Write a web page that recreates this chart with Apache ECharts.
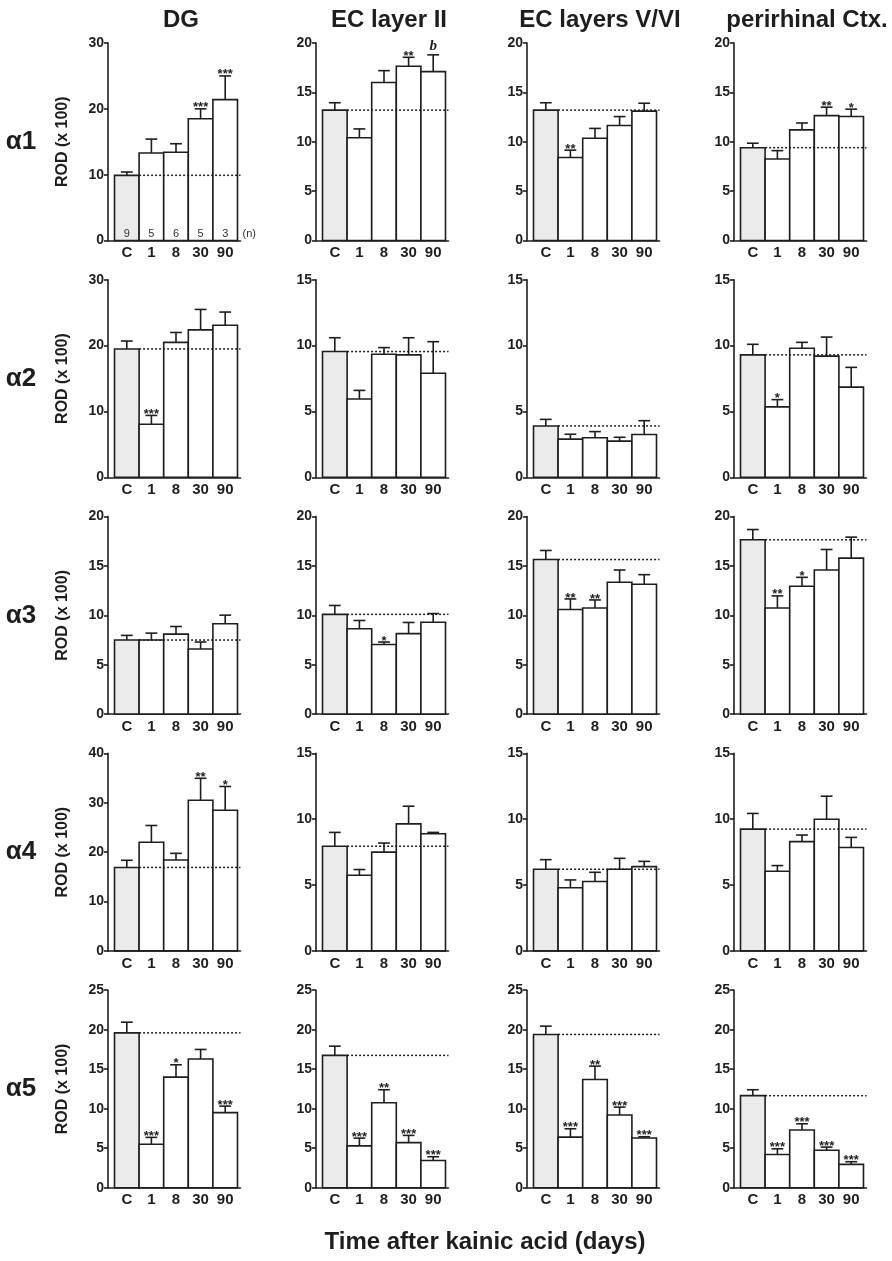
<!DOCTYPE html>
<html><head><meta charset="utf-8">
<script src="https://cdn.jsdelivr.net/npm/echarts@6/dist/echarts.min.js"></script>
<style>html,body{margin:0;padding:0;background:#fff}#c{width:892px;height:1261px}</style>
</head><body><div id="c"></div>
<script>
// ---------- data ----------
const categories = ['C', '1', '8', '30', '90'];
const regions = ['DG', 'EC layer II', 'EC layers V/VI', 'perirhinal Ctx.'];
const subunits = ['α1', 'α2', 'α3', 'α4', 'α5'];
const nCounts = [9, 5, 6, 5, 3];

// order inside each: DG, EC layer II, EC layers V/VI, perirhinal Ctx.
const alpha1Mean = [[9.9, 13.3, 13.4, 18.5, 21.4], [13.2, 10.4, 16.0, 17.65, 17.1], [13.2, 8.4, 10.35, 11.65, 13.1], [9.4, 8.25, 11.2, 12.65, 12.55]];
const alpha1Sem  = [[0.5, 2.1, 1.3, 1.5, 3.6], [0.75, 0.9, 1.2, 0.9, 1.7], [0.75, 0.75, 1.0, 0.9, 0.8], [0.45, 0.85, 0.7, 0.85, 0.75]];
const alpha1Sig  = [['', '', '', '***', '***'], ['', '', '', '**', 'b'], ['', '**', '', '', ''], ['', '', '', '**', '*']];

const alpha2Mean = [[19.5, 8.05, 20.5, 22.4, 23.1], [9.55, 5.95, 9.35, 9.3, 7.9], [3.9, 2.9, 3.0, 2.75, 3.25], [9.3, 5.35, 9.8, 9.2, 6.85]];
const alpha2Sem  = [[1.2, 1.35, 1.5, 3.1, 2.0], [1.05, 0.65, 0.5, 1.3, 2.4], [0.5, 0.37, 0.47, 0.29, 1.05], [0.8, 0.55, 0.45, 1.45, 1.5]];
const alpha2Sig  = [['', '***', '', '', ''], ['', '', '', '', ''], ['', '', '', '', ''], ['', '*', '', '', '']];

const alpha3Mean = [[7.5, 7.5, 8.1, 6.6, 9.15], [10.1, 8.65, 7.05, 8.15, 9.3], [15.65, 10.6, 10.75, 13.35, 13.15], [17.65, 10.75, 12.95, 14.6, 15.8]];
const alpha3Sem  = [[0.47, 0.7, 0.77, 0.7, 0.87], [0.9, 0.83, 0.25, 1.13, 0.88], [0.92, 1.06, 0.81, 1.24, 0.97], [1.04, 1.22, 0.9, 2.07, 2.12]];
const alpha3Sig  = [['', '', '', '', ''], ['', '', '*', '', ''], ['', '**', '**', '', ''], ['', '**', '*', '', '']];

const alpha4Mean = [[16.9, 22.0, 18.4, 30.5, 28.5], [7.95, 5.75, 7.5, 9.65, 8.9], [6.2, 4.8, 5.27, 6.2, 6.4], [9.25, 6.05, 8.3, 10.0, 7.85]];
const alpha4Sem  = [[1.45, 3.4, 1.36, 4.46, 4.8], [1.05, 0.43, 0.69, 1.34, 0.1], [0.73, 0.59, 0.7, 0.83, 0.4], [1.19, 0.43, 0.5, 1.75, 0.77]];
const alpha4Sig  = [['', '', '', '**', '*'], ['', '', '', '', ''], ['', '', '', '', ''], ['', '', '', '', '']];

const alpha5Mean = [[19.6, 5.5, 14.0, 16.3, 9.5], [16.75, 5.3, 10.75, 5.7, 3.45], [19.4, 6.4, 13.7, 9.2, 6.3], [11.65, 4.2, 7.3, 4.75, 2.95]];
const alpha5Sem  = [[1.35, 0.87, 1.56, 1.2, 0.83], [1.17, 0.98, 1.65, 0.92, 0.47], [1.05, 1.06, 1.69, 1.0, 0.15], [0.75, 0.73, 0.79, 0.39, 0.34]];
const alpha5Sig  = [['', '***', '*', '', '***'], ['', '***', '**', '***', '***'], ['', '***', '**', '***', '***'], ['', '***', '***', '***', '***']];

const yMax  = [[30, 20, 20, 20], [30, 15, 15, 15], [20, 20, 20, 20], [40, 15, 15, 15], [25, 25, 25, 25]];
const yStep = [[10, 5, 5, 5], [10, 5, 5, 5], [5, 5, 5, 5], [10, 5, 5, 5], [5, 5, 5, 5]];
const yAxisTitle = 'ROD (x 100)';
const xAxisTitle = 'Time after kainic acid (days)';

// ---------- layout ----------
const means = [alpha1Mean, alpha2Mean, alpha3Mean, alpha4Mean, alpha5Mean];
const sems = [alpha1Sem, alpha2Sem, alpha3Sem, alpha4Sem, alpha5Sem];
const sigs = [alpha1Sig, alpha2Sig, alpha3Sig, alpha4Sig, alpha5Sig];

const colAxisX = [108, 316, 527, 734];
const rowTop0 = 43, rowStep = 236.8, plotH = 197.5;
const padL = 6.5, bandW = 24.6, padR = 3;
const xMin = -0.5 - padL / bandW, xMax = 4.5 + padR / bandW;
const gridW = padL + 5 * bandW + padR;
const INK = '#1e1e1e';
const FONT = '"Liberation Sans", Arial, Helvetica, sans-serif';

const grids = [], xAxes = [], yAxes = [], series = [], titles = [], graphics = [];

function makeRender(r, c) {
  const m = means[r][c], s = sigs[r][c];
  const showN = (r === 0 && c === 0);
  return function (params, api) {
    const i = params.dataIndex;
    const x = api.value(0), v = api.value(1), e = api.value(2);
    const p0 = api.coord([x - 0.5, 0]);
    const p1 = api.coord([x + 0.5, v]);
    const pm = api.coord([x, v]);
    const pt = api.coord([x, v + e]);
    const capHalf = api.size([0.24, 0])[0];
    const children = [
      { type: 'rect', z2: 1, shape: { x: p0[0], y: p1[1], width: p1[0] - p0[0], height: p0[1] - p1[1] },
        style: { fill: i === 0 ? '#ebebeb' : '#ffffff', stroke: INK, lineWidth: 1.6 } },
      { type: 'line', z2: 2, shape: { x1: pm[0], y1: pm[1], x2: pt[0], y2: pt[1] }, style: { stroke: INK, lineWidth: 1.6 } },
      { type: 'line', z2: 2, shape: { x1: pt[0] - capHalf, y1: pt[1], x2: pt[0] + capHalf, y2: pt[1] }, style: { stroke: INK, lineWidth: 1.6 } }
    ];
    if (i === 0) {
      const a = api.coord([0.5, m[0]]), b = api.coord([xMax, m[0]]);
      children.push({ type: 'line', z2: 10, shape: { x1: a[0], y1: a[1], x2: b[0], y2: b[1] },
        style: { stroke: INK, lineWidth: 1.5, lineDash: [2, 2] } });
    }
    const sg = s[i];
    if (sg) {
      if (sg === 'b') {
        children.push({ type: 'text', z2: 5, style: { text: sg, x: pt[0], y: pt[1] - 1, align: 'center', verticalAlign: 'bottom',
          font: 'italic bold 15px "Liberation Serif", "Times New Roman", serif', fill: INK } });
      } else {
        children.push({ type: 'text', z2: 5, style: { text: sg, x: pt[0], y: pt[1] - 1, align: 'center', verticalAlign: 'middle',
          font: 'bold 13px ' + FONT, fill: INK } });
      }
    }
    if (showN) {
      const pb = api.coord([x, 0]);
      children.push({ type: 'text', z2: 5, style: { text: String(nCounts[i]), x: pb[0], y: pb[1] - 7, align: 'center', verticalAlign: 'middle',
        font: '11px ' + FONT, fill: '#333' } });
      if (i === categories.length - 1) {
        const pe = api.coord([x + 0.5, 0]);
        children.push({ type: 'text', z2: 5, style: { text: '(n)', x: pe[0] + 5, y: pb[1] - 7, align: 'left', verticalAlign: 'middle',
          font: '11px ' + FONT, fill: '#333' } });
      }
    }
    return { type: 'group', children };
  };
}

for (let r = 0; r < 5; r++) {
  for (let c = 0; c < 4; c++) {
    const k = r * 4 + c;
    const top = rowTop0 + r * rowStep;
    grids.push({ left: colAxisX[c], top: top, width: gridW, height: plotH, containLabel: false });
    xAxes.push({
      type: 'value', gridIndex: k, min: xMin, max: xMax,
      axisLine: { show: true, onZero: false, lineStyle: { color: INK, width: 1.6 } },
      axisTick: { show: false }, splitLine: { show: false },
      axisLabel: {
        show: true, customValues: [0, 1, 2, 3, 4], margin: 5,
        formatter: v => categories[Math.round(v)] ?? '',
        fontFamily: FONT, fontWeight: 'bold', fontSize: 15, color: INK
      }
    });
    yAxes.push({
      type: 'value', gridIndex: k, min: 0, max: yMax[r][c], interval: yStep[r][c],
      axisLine: { show: true, onZero: false, lineStyle: { color: INK, width: 1.6 } },
      axisTick: { show: true, length: 4, lineStyle: { color: INK, width: 1.6 } },
      splitLine: { show: false },
      axisLabel: { margin: 4, fontFamily: FONT, fontWeight: 'bold', fontSize: 14, color: INK },
      name: c === 0 ? yAxisTitle : '', nameLocation: 'middle', nameGap: 37, nameRotate: 90,
      nameTextStyle: { fontFamily: FONT, fontWeight: 'bold', fontSize: 16, color: INK }
    });
    series.push({
      type: 'custom', xAxisIndex: k, yAxisIndex: k, clip: false,
      renderItem: makeRender(r, c),
      encode: { x: 0, y: 1 },
      data: categories.map((cat, i) => [i, means[r][c][i], sems[r][c][i]])
    });
  }
  graphics.push({ type: 'text', x: 21, y: rowTop0 + r * rowStep + plotH / 2,
    style: { text: subunits[r], align: 'center', verticalAlign: 'middle', font: 'bold 26px ' + FONT, fill: INK } });
}

for (let c = 0; c < 4; c++) {
  titles.push({ text: regions[c], left: colAxisX[c] + padL + 2.5 * bandW, top: 3, textAlign: 'center',
    textStyle: { fontFamily: FONT, fontWeight: 'bold', fontSize: 24, color: INK } });
}
graphics.push({ type: 'text', x: 485, y: 1242,
  style: { text: xAxisTitle, align: 'center', verticalAlign: 'middle', font: 'bold 24px ' + FONT, fill: INK } });

const chart = echarts.init(document.getElementById('c'), null, { renderer: 'canvas' });
chart.setOption({
  animation: false,
  backgroundColor: '#ffffff',
  title: titles,
  grid: grids, xAxis: xAxes, yAxis: yAxes, series: series,
  graphic: graphics
});
</script></body></html>
